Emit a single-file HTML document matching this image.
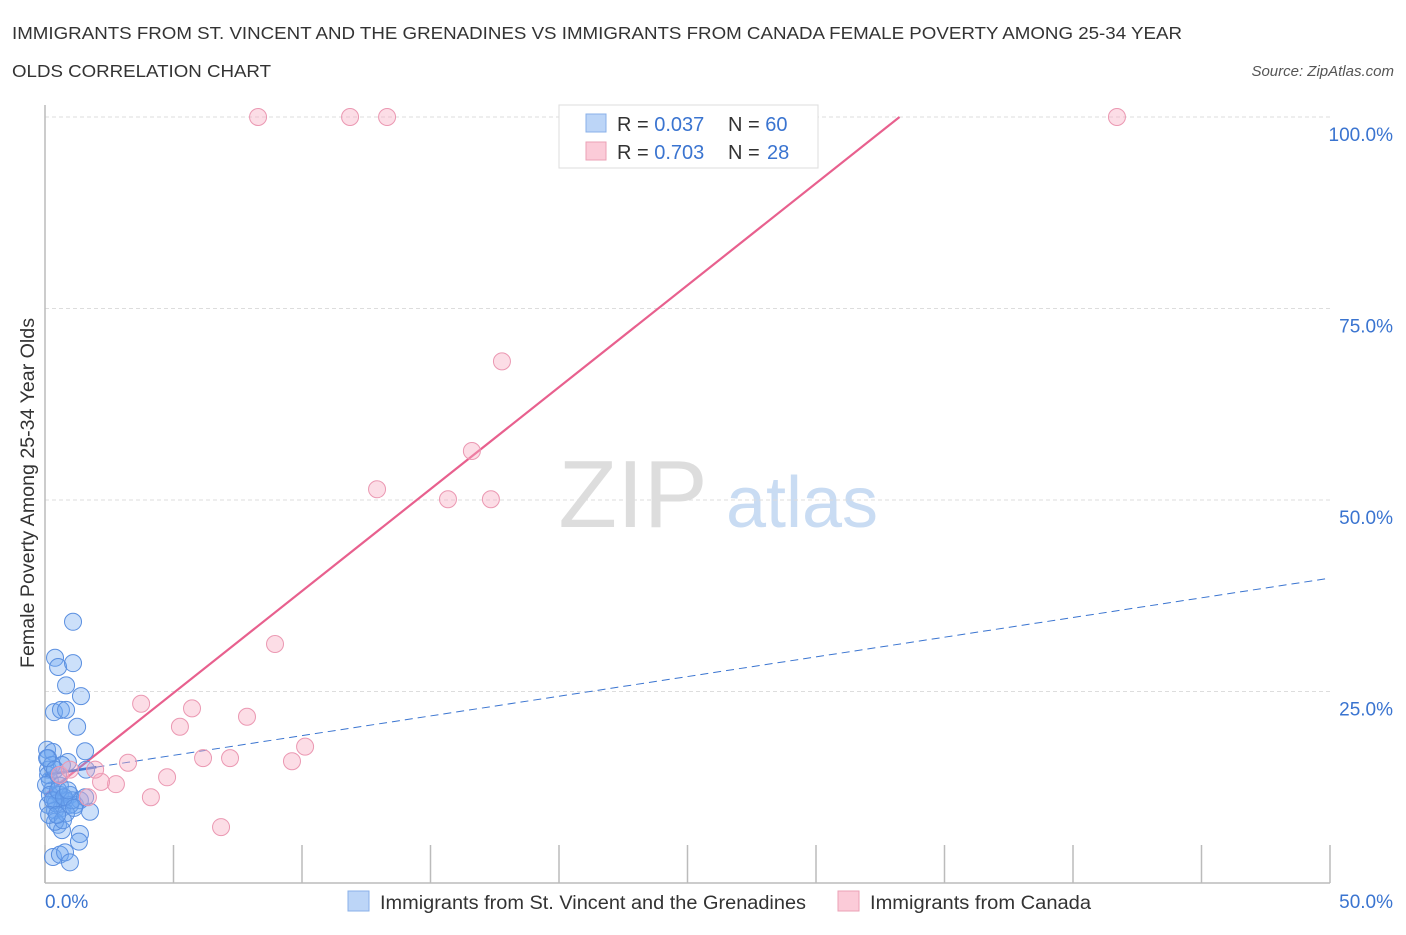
<!DOCTYPE html>
<html><head><meta charset="utf-8"><style>
body{margin:0;background:#fff;font-family:"Liberation Sans",sans-serif;}
svg text{font-family:"Liberation Sans",sans-serif;}
</style></head><body>
<svg width="1406" height="930">
<text x="12" y="39" font-size="17.5" fill="#333" textLength="1170" lengthAdjust="spacingAndGlyphs">IMMIGRANTS FROM ST. VINCENT AND THE GRENADINES VS IMMIGRANTS FROM CANADA FEMALE POVERTY AMONG 25-34 YEAR</text>
<text x="12" y="77" font-size="17.5" fill="#333" textLength="259" lengthAdjust="spacingAndGlyphs">OLDS CORRELATION CHART</text>
<text x="1394" y="76" font-size="15" fill="#555" font-style="italic" text-anchor="end">Source: ZipAtlas.com</text>
<text x="633" y="527" font-size="96" fill="#ddd" font-family="Liberation Serif" text-anchor="middle">ZIP</text>
<text x="802" y="527" font-size="72" fill="#c9dcf3" text-anchor="middle">atlas</text>
<g id="grid"></g>
<g id="axes"></g>
<g id="lines"></g>
<g id="pts"></g>
<text transform="translate(34,493) rotate(-90)" font-size="19" fill="#333" text-anchor="middle" textLength="350" lengthAdjust="spacingAndGlyphs">Female Poverty Among 25-34 Year Olds</text>
<g>
<rect x="559" y="105" width="259" height="63" fill="#fff" stroke="#ddd"/>
<rect x="586" y="114" width="20" height="18" fill="#bcd5f7" stroke="#8ab0e8"/>
<rect x="586" y="142" width="20" height="18" fill="#fbcbd8" stroke="#eba0b6"/>
<text x="617" y="131" font-size="20" fill="#333">R = <tspan fill="#3a74d0">0.037</tspan><tspan x="728">N = </tspan><tspan fill="#3a74d0">60</tspan></text>
<text x="617" y="159" font-size="20" fill="#333">R = <tspan fill="#3a74d0">0.703</tspan><tspan x="728">N = </tspan><tspan x="767" fill="#3a74d0">28</tspan></text>
</g>
<g>
<rect x="348" y="891" width="21" height="20" fill="#bcd5f7" stroke="#8ab0e8"/>
<text x="380" y="909" font-size="19" fill="#333" textLength="426" lengthAdjust="spacingAndGlyphs">Immigrants from St. Vincent and the Grenadines</text>
<rect x="838" y="891" width="21" height="20" fill="#fbcbd8" stroke="#eba0b6"/>
<text x="870" y="909" font-size="19" fill="#333" textLength="221" lengthAdjust="spacingAndGlyphs">Immigrants from Canada</text>
</g>
</svg>
<script>
const xTicksLbl=["0.0%","50.0%"];
const yTicks=[25,50,75,100];
const yTickLbl=["25.0%","50.0%","75.0%","100.0%"];
const blueX=[1.09,0.39,0.51,1.09,0.82,1.40,0.35,0.62,0.82,1.25,0.08,0.31,1.56,0.12,0.89,1.60,0.12,0.19,0.27,0.39,0.58,0.78,0.97,1.17,0.12,0.39,0.66,1.36,1.75,0.51,0.66,0.39,1.36,1.32,0.31,0.58,0.78,0.97,0.12,0.04,0.51,0.66,0.19,0.43,0.97,0.82,1.05,1.56,0.58,0.27,0.08,0.31,0.51,0.74,0.89,0.39,0.16,0.70,1.13,0.47];
const blueY=[34.1,29.4,28.2,28.7,25.8,24.4,22.3,22.6,22.6,20.4,17.4,17.1,17.2,16.3,15.8,14.8,14.8,13.4,12.1,10.8,11.5,10.8,11.5,10.2,10.2,9.5,9.8,10.8,9.3,7.6,6.9,8.0,6.4,5.4,3.4,3.7,4.0,2.7,14.1,12.8,14.1,15.4,11.5,10.4,10.2,9.1,10.8,11.2,12.7,15.4,16.3,10.8,12.1,11.2,12.1,14.8,8.9,8.2,9.8,8.9];
const pinkX=[8.29,11.87,13.31,41.71,17.78,16.61,12.92,15.68,17.35,8.95,3.74,5.72,5.25,7.86,10.12,9.61,3.23,6.15,7.2,4.75,2.76,2.18,4.12,6.85,1.67,0.58,0.97,1.95];
const pinkY=[100,100,100,100,68.1,56.4,51.4,50.1,50.1,31.2,23.4,22.8,20.4,21.7,17.8,15.9,15.7,16.3,16.3,13.8,12.9,13.2,11.2,7.3,11.2,14.1,14.8,14.8];
const pinkTrend=[0,11.5,33.25,100];
const blueTrend=[0,14.1,50,39.8];
const blueSolidEnd=2.0;
const NS="http://www.w3.org/2000/svg";
const sx=v=>45+v*25.7, sy=v=>883-v*7.66;
function mk(tag,attrs,parent){const e=document.createElementNS(NS,tag);for(const k in attrs)e.setAttribute(k,attrs[k]);document.getElementById(parent).appendChild(e);return e;}
yTicks.forEach((t,i)=>{
 const g=mk('line',{x1:45,x2:1330,y1:sy(t),y2:sy(t),stroke:'#ddd','stroke-dasharray':'4,3'},'grid');
 
 
 const l=mk('text',{x:1393,y:sy(t)+24,'font-size':19,fill:'#3a74d0','text-anchor':'end'},'axes');
 l.textContent=yTickLbl[i];
 
 
});
const ax=mk('line',{x1:45,x2:1330,y1:883,y2:883,stroke:'#bbb','stroke-width':1.5},'axes');


const ay=mk('line',{x1:45,x2:45,y1:105,y2:883,stroke:'#bbb','stroke-width':1.5},'axes');


for(let i=0;i<=10;i++){
 const t=mk('line',{x1:sx(i*5),x2:sx(i*5),y1:845,y2:883,stroke:'#bbb','stroke-width':1.5},'axes');
 
 
}
[[0,'start',45],[1,'end',1393]].forEach(([i,a,x])=>{
 const l=mk('text',{x:x,y:908,'font-size':19,fill:'#3a74d0','text-anchor':a},'axes');
 l.textContent=xTicksLbl[i];
 
 
});
blueX.forEach((x,i)=>{
 const c=mk('circle',{cx:sx(x),cy:sy(blueY[i]),r:8.5,fill:'rgba(110,165,240,0.35)',stroke:'#5a8fe0','stroke-width':1},'pts');
 
 
});
pinkX.forEach((x,i)=>{
 const c=mk('circle',{cx:sx(x),cy:sy(pinkY[i]),r:8.5,fill:'rgba(247,170,192,0.4)',stroke:'#eb98b2','stroke-width':1},'pts');
 
 
});
const pl=mk('line',{x1:sx(pinkTrend[0]),y1:sy(pinkTrend[1]),x2:sx(pinkTrend[2]),y2:sy(pinkTrend[3]),stroke:'#e8608e','stroke-width':2.2},'lines');


const bl=mk('line',{x1:sx(blueTrend[0]),y1:sy(blueTrend[1]),x2:sx(blueTrend[2]),y2:sy(blueTrend[3]),stroke:'#3a74d0','stroke-width':1,'stroke-dasharray':'8,5'},'lines');


const by=v=>blueTrend[1]+(blueTrend[3]-blueTrend[1])*v/blueTrend[2];
const bs=mk('line',{x1:sx(0),y1:sy(by(0)),x2:sx(blueSolidEnd),y2:sy(by(blueSolidEnd)),stroke:'#2a66cc','stroke-width':2.5},'lines');


</script>
</body></html>
